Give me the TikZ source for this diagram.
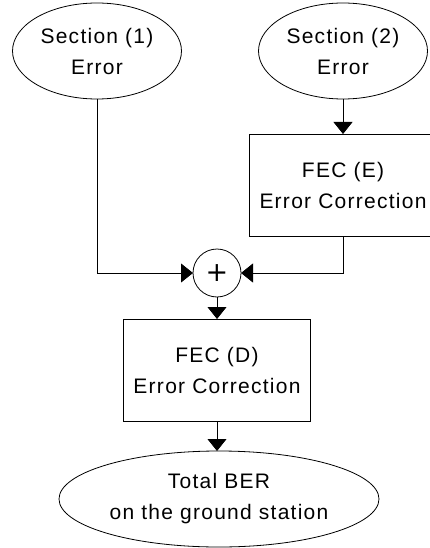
\documentclass[tikz,border=0pt]{standalone}
\usepackage{fontspec}
\newfontfamily\diagfont[LetterSpace=6]{Liberation Sans}
\newfontfamily\plusfont{DejaVu Sans}
\usetikzlibrary{shapes.geometric,arrows.meta}
\begin{document}
\begin{tikzpicture}[x=1pt,y=-1pt,
  every node/.style={font=\diagfont\fontsize{21}{31}\selectfont, align=center, inner sep=0pt, outer sep=0pt},
  ell/.style={draw, line width=0.8pt, ellipse, minimum width=169pt, minimum height=96pt},
  wideell/.style={ell, minimum width=320pt},
  box/.style={draw, line width=0.8pt, rectangle, minimum width=187pt, minimum height=102pt},
  sumnode/.style={draw, line width=0.8pt, circle, minimum size=48pt, font=\plusfont\fontsize{27}{27}\selectfont},
  link/.style={-{Triangle[length=12pt,width=19pt]}, line width=0.8pt}
]
\useasboundingbox (0,0) rectangle (429,548);
\node[ell] (e1) at (97,51) {Section (1)\\Error};
\node[ell] (e2) at (343,51) {Section (2)\\Error};
\node[box] (fecE) at (343,185) {FEC (E)\\Error Correction};
\node[sumnode] (plus) at (217,273) {+};
\node[box] (fecD) at (217,370) {FEC (D)\\Error Correction};
\node[wideell] (total) at (219,499) {Total BER\\on the ground station};
\draw[link] (e1.south) |- (plus.west);
\draw[link] (e2.south) -- (fecE.north);
\draw[link] (fecE.south) |- (plus.east);
\draw[link] (plus.south) -- (fecD.north);
\draw[link] (fecD.south) -- (total.north -| fecD.south);
\end{tikzpicture}
\end{document}
